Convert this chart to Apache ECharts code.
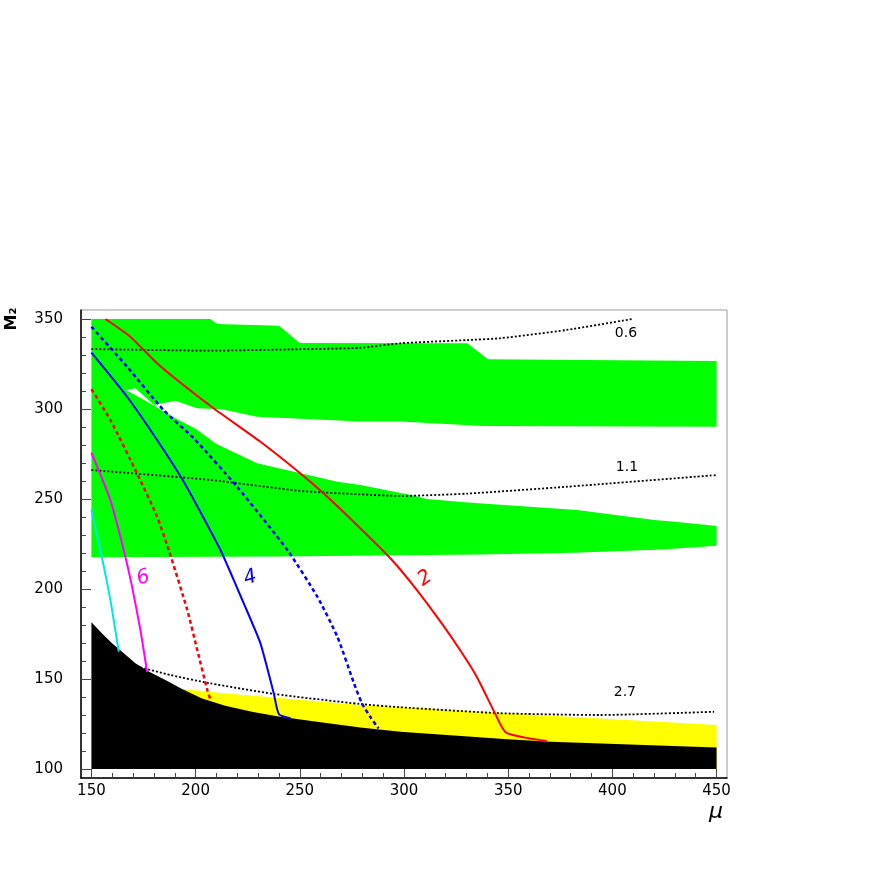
<!DOCTYPE html>
<html>
<head>
<meta charset="utf-8">
<script src="https://cdn.jsdelivr.net/npm/echarts@6/dist/echarts.min.js"></script>
<style>
  html, body { margin: 0; padding: 0; background: #fff; }
  #main { width: 872px; height: 872px; }
</style>
</head>
<body>
<div id="main"></div>
<script>
  // axis ticks
  var xMajor = [150, 200, 250, 300, 350, 400, 450];
  var xMinor = [160, 170, 180, 190, 210, 220, 230, 240, 260, 270, 280, 290, 310, 320, 330, 340,
                360, 370, 380, 390, 410, 420, 430, 440];
  var yMajor = [100, 150, 200, 250, 300, 350];
  var yMinor = [110, 120, 130, 140, 160, 170, 180, 190, 210, 220, 230, 240, 260, 270, 280, 290,
                310, 320, 330, 340];

  // green region, walked round as one outline
  var greenTop = [[150, 350], [207, 350], [210.3, 347.2], [240, 346.3], [250, 336.7], [330.4, 336.5],
                  [340.3, 327.6], [450, 326.7]];
  var gapUpper = [[450, 290.2], [338, 290.5], [298, 293], [279, 293], [229.5, 295.7], [212.6, 299.8],
                  [200.7, 300.4], [190.3, 304.6], [180, 302.2], [171.1, 311.5], [166.6, 310.6]];
  var gapLower = [[166.6, 310.6], [180, 302], [190, 295], [200, 289], [210, 280.5], [229.5, 269.8],
                  [268, 259.6], [279, 257.8], [304.6, 252], [311, 250], [330.5, 248], [383, 243.9],
                  [420, 238.3], [430, 237.4], [450, 235]];
  var greenBottom = [[450, 224], [424, 222], [381.6, 220.2], [336.5, 219.2], [240, 218], [150, 217.6]];

  // yellow and black regions
  var yellowTop = [[193.5, 144.4], [211, 142.4], [243, 139.2], [279, 135.6], [298.2, 134.6],
                   [370.4, 129.6], [450, 124.4]];
  var blackTop = [[150, 181.5], [155.1, 175.3], [159.9, 169.8], [164.7, 165.2], [171.1, 158.7],
                  [177.5, 154.1], [185.5, 149.4], [193.5, 144.4], [203.1, 139.2], [214.2, 135.2],
                  [227, 131.8], [239.8, 129.1], [260, 126], [279, 123], [298.3, 120.7],
                  [349.6, 116.5], [370.4, 115.2], [450, 112]];
  var floorY = 100;

  // dotted contours
  var c06 = [[150, 333.3], [207, 332.4], [250, 333.2], [279, 334], [298.3, 336.5], [330.4, 338.3],
             [346, 339.3], [378, 343.9], [409.5, 350]];
  var c11 = [[150, 266.1], [207, 260.6], [250, 254.5], [279, 252.6], [298.3, 251.7], [330.4, 253],
             [378, 256.8], [450, 263.3]];
  var c27 = [[173.5, 156.5], [187.9, 152.2], [207, 147.6], [237.6, 141.7], [279, 136.1], [298, 134.3],
             [346, 131], [394, 130], [448.8, 131.8]];

  // coloured curves
  var redSolid = [[156.7, 350], [168.6, 340.2], [181.5, 325.4], [191.1, 316.1], [208.6, 300.4],
                  [231.1, 281.8], [250.3, 264.2], [261.5, 253], [279, 233.7], [294.2, 216.1],
                  [306.2, 199.4], [318.1, 180.9], [326.9, 166.1], [334.9, 151.3], [343.7, 130.9],
                  [349, 120.2], [368.5, 115.5]];
  var redDotted = [[150, 311], [159.1, 293.9], [171.9, 264.2], [181.5, 240.2], [187.1, 221.7],
                   [196, 188.3], [200.8, 166.1], [205.6, 143.9], [207.2, 138.3]];
  var blueSolid = [[150, 331.3], [167.1, 306.8], [181.5, 282.8], [194.3, 259.6], [211.9, 221.7],
                   [223.1, 192], [231.1, 169.8], [237.5, 142], [240, 130.4], [245.6, 128.2]];
  var blueDotted = [[150, 345.7], [167.1, 323.5], [184.6, 299.4], [199.1, 283.7], [219.9, 256.8],
                    [244, 221.7], [258.4, 195.7], [268, 173.5], [276, 147.6], [279.8, 136.5],
                    [283.8, 129], [287.8, 122.5]];
  var magenta = [[150, 275.7], [159.1, 249.4], [165.5, 221.7], [169.5, 201.3], [173.5, 177.2],
                 [176.7, 154]];
  var cyan = [[150, 244.1], [154.3, 221.7], [159.1, 193.9], [163.1, 165.2]];

  // labels
  var contourText = ['0.6', '1.1', '2.7'];
  var contourAt = [[406.5, 342.2], [407, 267.8], [406, 142.8]];
  var curveText = ['2', '4', '6'];
  var curveAt = [[310.1, 205.9], [226.2, 206.1], [174.9, 206.1]];
  var curveColor = ['#ff0000', '#0000ff', '#ff00ff'];

  var FONT = '"DejaVu Sans", "Liberation Sans", sans-serif';

  var greenOutline = greenTop.concat(gapUpper, gapLower, greenBottom);
  var yellowOutline = yellowTop.concat([[450, floorY], [193.5, floorY]]);
  var blackOutline = blackTop.concat([[450, floorY], [150, floorY]]);

  function area(points, color, z) {
    return {
      type: 'custom',
      silent: true,
      z: z,
      data: [points[0]],
      renderItem: function (params, api) {
        return {
          type: 'polygon',
          shape: { points: points.map(function (p) { return api.coord(p); }) },
          style: { fill: color }
        };
      }
    };
  }

  function curve(points, color, width, dash) {
    return {
      type: 'line',
      data: points,
      showSymbol: false,
      silent: true,
      smooth: 0.2,
      z: 4,
      lineStyle: { color: color, width: width, type: dash || 'solid', cap: 'butt' }
    };
  }

  function labels(at, texts, colors, font, rot) {
    return {
      type: 'custom',
      silent: true,
      z: 5,
      data: at,
      renderItem: function (params, api) {
        var p = api.coord([api.value(0), api.value(1)]);
        return {
          type: 'text',
          x: p[0], y: p[1],
          rotation: rot[params.dataIndex],
          style: {
            text: texts[params.dataIndex],
            fill: colors[params.dataIndex],
            font: font,
            align: 'center',
            verticalAlign: 'middle'
          }
        };
      }
    };
  }

  function axisPair(dim, major, minor, lo, hi) {
    var base = {
      type: 'value', min: lo, max: hi,
      splitLine: { show: false }
    };
    var main = Object.assign({}, base, {
      axisLine: { show: true, onZero: false, lineStyle: { color: '#000', width: 1.5 } },
      axisTick: { show: true, inside: true, length: dim === 'x' ? 9 : 10, customValues: major,
                  lineStyle: { color: '#444', width: 1 } },
      axisLabel: { customValues: major, color: '#000', fontSize: 15, fontFamily: FONT,
                   margin: dim === 'x' ? 6 : 18 }
    });
    var sub = Object.assign({}, base, {
      axisLine: { show: false, onZero: false },
      axisTick: { show: true, inside: true, length: 5, customValues: minor,
                  lineStyle: { color: '#444', width: 1 } },
      axisLabel: { show: false }
    });
    if (dim === 'x') { main.position = sub.position = 'bottom'; }
    else { main.position = sub.position = 'left'; }
    return [main, sub];
  }

  var chart = echarts.init(document.getElementById('main'), null, { renderer: 'canvas' });
  var option = {
    animation: false,
    backgroundColor: '#fff',
    grid: {
      left: 81, top: 310, width: 646, height: 468,
      show: true, borderColor: '#999', borderWidth: 1,
      outerBoundsMode: 'none'
    },
    xAxis: axisPair('x', xMajor, xMinor, 145, 455),
    yAxis: axisPair('y', yMajor, yMinor, 95, 355),
    graphic: [
      { type: 'text', x: 12, y: 319, rotation: Math.PI / 2,
        style: { text: 'M₂', font: 'bold 16px ' + FONT, fill: '#000', align: 'center', verticalAlign: 'middle' } },
      { type: 'text', x: 716, y: 812,
        style: { text: 'μ', font: 'italic 22px ' + FONT, fill: '#000', align: 'center', verticalAlign: 'middle' } }
    ],
    series: [
      area(greenOutline, '#00ff00', 1),
      area(yellowOutline, '#ffff00', 2),
      area(blackOutline, '#000000', 3),
      curve(c06, '#000', 1.8, [2, 2]),
      curve(c11, '#000', 1.8, [2, 2]),
      curve(c27, '#000', 1.8, [2, 2]),
      curve(cyan, '#00e5ee', 2),
      curve(magenta, '#ff00ff', 2),
      curve(redDotted, '#ff0000', 2.5, [4, 3]),
      curve(blueDotted, '#0000ff', 2.5, [4, 3]),
      curve(blueSolid, '#0000ff', 2),
      curve(redSolid, '#ff0000', 2),
      labels(contourAt, contourText, ['#000', '#000', '#000'], '14px ' + FONT, [0, 0, 0]),
      labels(curveAt, curveText, curveColor, 'italic 20px ' + FONT, [0.6, 0.3, 0.3])
    ]
  };
  chart.setOption(option);
</script>
</body>
</html>
